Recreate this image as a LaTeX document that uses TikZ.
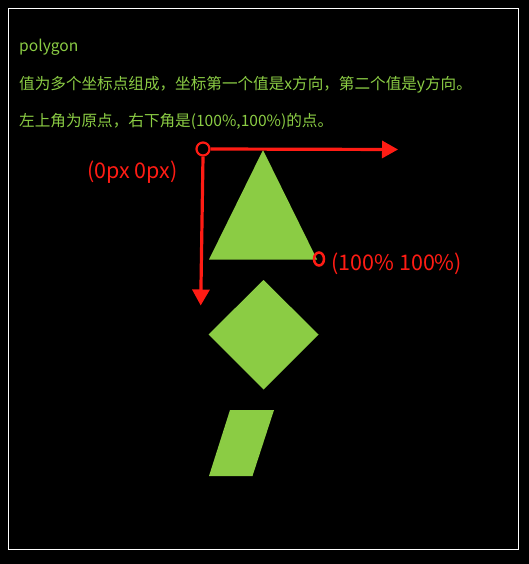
\documentclass[tikz,border=0pt]{standalone}
\usepackage{fontspec}
\setmainfont{Noto Sans CJK SC}
\usetikzlibrary{arrows.meta,positioning}
\definecolor{leaf}{RGB}{139,204,68}
\definecolor{marker}{RGB}{255,28,20}
\tikzset{%
  % Specifications for style of arrows:
   axis/.style={
           -{Triangle[length=16pt,width=17pt]},
           line width=3.2pt,
           draw=marker,
           shorten <=0pt,},
  % Specifications for style of nodes:
   note/.style = {anchor=west, inner sep=0pt, text=leaf,
                  font=\fontsize{15.6}{18}\selectfont},
   label/.style = {anchor=west, inner sep=0pt, text=marker,
                  font=\fontsize{21.5}{25}\selectfont},
   origin/.style = {circle, draw=marker, line width=2.2pt,
                  minimum size=13pt, inner sep=0pt},
   corner/.style = {ellipse, draw=marker, line width=2.5pt,
                  minimum width=10pt, minimum height=13pt, inner sep=0pt},
   piece/.style = {fill=leaf},
}
\usetikzlibrary{shapes.geometric}
\begin{document}
\begin{tikzpicture}[x=1pt, y=-1pt]

  % Background and frame
  \fill[black] (0,0) rectangle (529,564);
  \draw[white, line width=1pt] (8.5,8.5) rectangle (518.5,549.5);
  \useasboundingbox (0,0) rectangle (529,564);

  % Specification of texts
  \node (title)	[note]	at (19,47.5)	{polygon};
  \node (lineA)	[note]	at (19,84.5)	{值为多个坐标点组成，坐标第一个值是x方向，第二个值是y方向。};
  \node (lineB)	[note]	at (19,121.5)	{左上角为原点，右下角是(100\%,100\%)的点。};

  % Shapes
  \fill[piece] (263,150) -- (317,259.5) -- (209,259.5) -- cycle;
  \fill[piece] (263.5,280) -- (318.5,334.5) -- (263.5,389.5) -- (208.5,334.5) -- cycle;
  \fill[piece] (230,410) -- (274,410) -- (252.5,476) -- (209,476) -- cycle;

  % Markers
  \node (O_mark)	[origin]	at (203,149)	{};
  \node (E_mark)	[corner]	at (319,259)	{};
  \coordinate (X_end) at (398,149.5);
  \coordinate (Y_end) at (200.7,305.5);
  \node (O_text)	[label]	at (87,172)	{(0px 0px)};
  \node (E_text)	[label, right=6pt of E_mark, yshift=-5pt]	{(100\% 100\%)};

  % Axes
  \draw[axis] (O_mark.east) -- (X_end);
  \draw[axis] (O_mark.south) -- (Y_end);

\end{tikzpicture}
\end{document}
